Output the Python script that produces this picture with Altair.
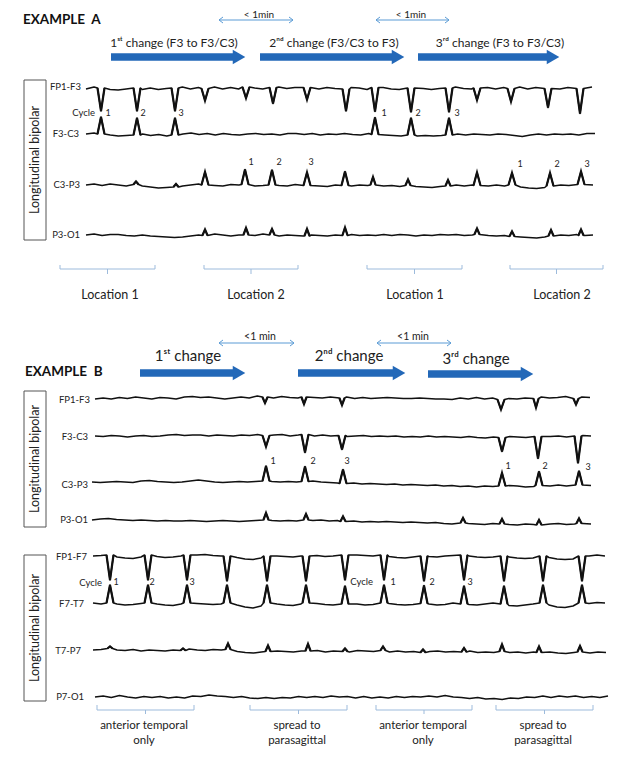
import altair as alt
import pandas as pd

FONT = "Lato, DejaVu Sans, sans-serif"
INK = "#111111"
BLUE = "#2368b8"
LIGHT = "#5b9bd5"
BRACKET = "#9dbbdc"

# ---------------- Example A : traces (x = time position, y = vertical position, picture units) ----------------
A_START, A_END = 86, 592

A_FP1F3_BASE = 88
A_FP1F3_WIG = [1, -1, 0, 1.5, 2, 1, 0, 1.5, 0, 1.5, 0.5, 0, -1, 1, -0.5, 0.5, -1, 1, -0.5, 1, -1, 0, 1, -0.5, -1, 0.5,
               -0.5, 1, -0.5, 1, -0.5, 0.5, 1, -0.5, 0, 1.5, -0.5, -0.5, 1, 1.5, 0, 1, 0.5, 1.5, 0.5, 0, -1, 0.5, 1, 0,
               -0.5, 1, -0.5, 0.5, -1, 1, -0.5, -0.5, 0.5, 1, -0.5, -1, 0.5, -1]
A_FP1F3_SPK_X = [101, 137, 175, 205, 246, 273, 307, 346, 375, 411, 449, 477, 511, 548, 580]
A_FP1F3_SPK_A = [23, 23, 23, 12, 11, 16, 12, 22, 24, 24, 24, 12, 13, 19, 25]

A_F3C3_BASE = 134
A_F3C3_WIG = [0, -1, 0, 1, 2, 1.5, 1, 0, 1.5, 0.5, 2, 1, 0, -1, 0.5, -0.5, 1, -0.5, 0.5, 1, 0, -0.5, 0.5, 0, 1, -0.5,
              -0.5, 0.5, -0.5, 1, 0, 0.5, -0.5, 0.5, 1, -0.5, 0.5, 1, 1.5, 2, 1, 2, 1.5, 2, 1.5, 1, 0, 1, 0, 0.5, 1,
              0, 0.5, 1.5, 2.5, 1, 0, 1, 0, 0.5, 0, 1, -0.5, -0.5]
A_F3C3_SPK_X = [101, 137, 175, 375, 411, 449]
A_F3C3_SPK_A = [-17, -17, -17, -17, -17, -17]

A_C3P3_BASE = 185
A_C3P3_WIG = [0, -1, 0.5, -1, 0, 1, -0.5, 1, 2, 3, 2.5, 2, 1, 0, -1, 0, 0.5, 1, -0.5, 0, -0.5, 1, 0.5, 0, 0.5, 1,
              -0.5, 0.5, 0, 1, 1.5, 0, 0.5, 1, 0, 0.5, 0, 1, 0.5, 1.5, 0.5, 1.5, 2, 2.5, 1.5, 1, 0, 1, 0, 0.5, 1, 0,
              1, 0, 2, 3, 3.5, 2.5, 1, 0, 0.5, 0, -0.5, 0]
A_C3P3_SPK_X = [136, 176, 205, 245, 272, 307, 345, 373, 408, 448, 477, 512, 550, 581]
A_C3P3_SPK_A = [-3, -3, -13, -15, -15, -13, -14, -8, -6, -6, -13, -12, -13, -13]

A_P3O1_BASE = 235
A_P3O1_WIG = [0, -1, 0.5, -0.5, -0.5, 0.5, 1, 0, 1, 1.5, 2, 2.5, 2, 1, 0, 0.5, -1, 0, 1, 0, 0, 0.5, -1, 0, 1, 0,
              0.5, 1, 0, 0.5, 1, 0, 0.5, -0.5, 0.5, 0, 0.5, -0.5, 0.5, -0.5, 0, 1, 0, 0.5, -0.5, 0, -0.5, 0.5, 0,
              -0.5, 0.5, 1, 0.5, 1.5, 2, 2.5, 3, 2, 1, 0, 0.5, -0.5, 0.5, 0]
A_P3O1_SPK_X = [205, 246, 272, 307, 345, 477, 512, 551, 581]
A_P3O1_SPK_A = [-6, -7, -6, -7, -8, -6, -5, -6, -6]

# ---------------- Example B (parasagittal chain) ----------------
B_START, B_END = 95, 590

B_FP1F3_BASE = 398
B_FP1F3_WIG = [1, 0, 1, -0.5, 0.5, -1, 0, 1, -0.5, 0, 1, -1, -1.5, -0.5, -1, 0, 1, 0, -1, 0, -2, -1, 0, -1.5, -0.5,
               0, -1, -0.5, 0, -1, 0, -1, 0.5, -0.5, 0.5, 0, -0.5, 0, 0.5, 0.5, 0, 0.5, 1, 1, 1.5, 0, 1, -0.5, 1, 0,
               1.5, 0.5, 1, 0, 0.5, -1, 0, -0.5, -1.5, 0.5, -1, -0.5]
B_FP1F3_SPK_X = [265, 304, 342, 501, 536, 576]
B_FP1F3_SPK_A = [6, 7, 7, 10, 9, 6]

B_F3C3_BASE = 436
B_F3C3_WIG = [0, 0.5, -0.5, 0, 1, 0, -0.5, 0.5, 0, -1, -1.5, -0.5, -1, -1, 0, -1, -0.5, 0, -1, -0.5, -1.5, -0.5, -1,
              -1.5, 0, -1, -1.5, 0, -1, 0, -0.5, 0.5, 0, -0.5, 0.5, 0, 0.5, 0, 1, 0.5, 1, 0, 1, 0.5, 1, 1.5, 0.5,
              1.5, 2, 1, 1.5, 0.5, 1, 1.5, 0.5, 1, 0.5, 0, 1, 0, -0.5, 0]
B_F3C3_SPK_X = [266, 305, 342, 502, 538, 578]
B_F3C3_SPK_A = [11, 18, 14, 14, 22, 27]

B_C3P3_BASE = 482
B_C3P3_WIG = [0, 0.5, 0, -0.5, 0, 0.5, -1, -1.5, -0.5, 0, 0.5, 0, -1, -2, -1, 0, 0.5, 0, -0.5, 0, -0.5, -1, -0.5, 0,
              -0.5, 0, -0.5, -1, 0, 0.5, 1, 1.5, 1, 2, 1.5, 2, 2.5, 2, 3, 2.5, 3, 3.5, 3, 4, 3.5, 4.5, 4, 5, 4, 4.5,
              4, 3.5, 4, 5, 4.5, 3.5, 4, 3, 4, 3.5, 3, 3.5]
B_C3P3_SPK_X = [266, 305, 343, 502, 539, 579]
B_C3P3_SPK_A = [-15, -15, -14, -13, -14, -14]

B_P3O1_BASE = 520
B_P3O1_WIG = [0, -1, -1.5, -0.5, 0, 0.5, 0, 0.5, 1, 0.5, 1, 1, 0.5, 1, 1.5, 1, 0.5, 1, 1.5, 1, 0.5, 0, 0.5, 1, 0.5,
              1, 0, 0.5, 0, 1, 0.5, 1.5, 1, 2, 1.5, 2, 1.5, 2, 2.5, 2, 2.5, 3, 2.5, 3.5, 4, 3, 3.5, 4, 4.5, 3.5, 4,
              4.5, 5, 4, 4.5, 5, 4, 3.5, 4.5, 4, 3.5, 4]
B_P3O1_SPK_X = [266, 306, 343, 463, 502, 539, 579]
B_P3O1_SPK_A = [-7, -6, -5, -5, -5, -5, -5]

# ---------------- Example B (temporal chain) ----------------
C_START, C_END = 93, 605
CYCLES = [110, 148, 187, 227, 267, 306, 345, 384, 424, 464, 504, 543, 582]

C_FP1F7_BASE = 556
C_FP1F7_WIG = [0, -0.5, -1, 1, 2, 2.5, 1, -1, 0.5, 1.5, 1, 0, -1, -1, -1.5, -0.5, 0, 0, 1.5, 3, 3.5, 2, 0, 0, 0.5,
               1, 0, 0, -0.5, 0.5, 0, -1, 0, -1, -0.5, 0, -1, 0.5, 1.5, 2, 1, 0, 0.5, 1, 0, -0.5, -1, 0, 1, 1.5, 1, 0,
               1, 2, 2.5, 2, 0, 1.5, 3, 3.5, 3, 0, 0, -1, 0]
C_FP1F7_SPK_A = [25] * len(CYCLES)

C_F7T7_BASE = 603
C_F7T7_WIG = [0, 1, 0, 1, 2, 1.5, 0.5, 0, 1, 2, 2.5, 1, 0, 0.5, 1, 1.5, 1, 0, 2, 4, 5, 3, 0, 1, 2, 2.5, 1, 0, 0.5,
              1.5, 2, 1, 0, 1, 2, 1.5, 0, 0.5, 1.5, 2, 1.5, 0.5, 1, 2, 1.5, 0, 1, 1.5, 2, 1, 0, 1, 2.5, 3, 2, 1, 0,
              2, 4, 4.5, 3, 0, 0.5, -0.5, 0]
C_F7T7_SPK_A = [-18] * len(CYCLES)

C_T7P7_BASE = 650
C_T7P7_WIG = [0, -0.5, -1.5, 0, 0.5, -0.5, 1, 0, 0.5, 1, 0, 0.5, -1, 0, 0.5, -0.5, 0, -0.5, 1.5, 2.5, 3, 2, 1.5, 1,
              1.5, 2, 1, 1, 0.5, 2, 1, 1.5, 2, 0.5, 1, 1.5, 0.5, 2, 1, 2, 1.5, 2.5, 1.5, 1, 2, 1.5, 2, 1, 2.5, 2, 2.5,
              1.5, 2.5, 2, 3, 2, 2.5, 2, 3, 3.5, 2.5, 2, 3, 2, 2.5]
C_T7P7_SPK_X = [110, 183, 228, 268, 308, 345, 383, 423, 464, 502, 539, 580]
C_T7P7_SPK_A = [-2, -2, -6, -6, -7, -3, -4, -3, -4, -7, -6, -6]

C_P7O1_BASE = 697
C_P7O1_WIG = [0, -1, 0.5, -1.5, 0, 1, -0.5, 0.5, -0.5, 1, 0, 1, -1, -0.5, -2, -1, -0.5, 0.5, -0.5, 1, 1.5, 0.5,
              1.5, 0.5, 1, -0.5, 0.5, -0.5, 0.5, -1, 0, -0.5, 1, -0.5, 1, 0, 1, -0.5, 0.5, -0.5, 0, -1, 0, -1.5, 0,
              0.5, 1.5, 0.5, 2, 1.5, 2.5, 1, 1.5, 0, 0.5, -1, 0.5, -1, 0, -1, 0.5, -0.5, 0.5, -1]

TRACES = [
    ("A1", A_START, A_END, A_FP1F3_BASE, A_FP1F3_WIG, A_FP1F3_SPK_X, A_FP1F3_SPK_A),
    ("A2", A_START, A_END + 3, A_F3C3_BASE, A_F3C3_WIG, A_F3C3_SPK_X, A_F3C3_SPK_A),
    ("A3", A_START, A_END + 1, A_C3P3_BASE, A_C3P3_WIG, A_C3P3_SPK_X, A_C3P3_SPK_A),
    ("A4", A_START, A_END + 1, A_P3O1_BASE, A_P3O1_WIG, A_P3O1_SPK_X, A_P3O1_SPK_A),
    ("B1", B_START, B_END, B_FP1F3_BASE, B_FP1F3_WIG, B_FP1F3_SPK_X, B_FP1F3_SPK_A),
    ("B2", B_START, B_END + 1, B_F3C3_BASE, B_F3C3_WIG, B_F3C3_SPK_X, B_F3C3_SPK_A),
    ("B3", B_START - 3, B_END + 1, B_C3P3_BASE, B_C3P3_WIG, B_C3P3_SPK_X, B_C3P3_SPK_A),
    ("B4", B_START - 3, B_END + 1, B_P3O1_BASE, B_P3O1_WIG, B_P3O1_SPK_X, B_P3O1_SPK_A),
    ("C1", C_START, C_END, C_FP1F7_BASE, C_FP1F7_WIG, CYCLES, C_FP1F7_SPK_A),
    ("C2", C_START, C_END, C_F7T7_BASE, C_F7T7_WIG, CYCLES, C_F7T7_SPK_A),
    ("C3", C_START, C_END + 1, C_T7P7_BASE, C_T7P7_WIG, C_T7P7_SPK_X, C_T7P7_SPK_A),
    ("C4", C_START + 2, C_END + 3, C_P7O1_BASE, C_P7O1_WIG, [], []),
]


def build_trace(x0, x1, base, wig, spk_x, spk_a):
    n = len(wig)
    step = (x1 - x0) / (n - 1)
    xs = [x0 + i * step for i in range(n)]
    pts = [(x, base + w) for x, w in zip(xs, wig)]
    spikes = []
    for s, a in zip(spk_x, spk_a):
        j = min(range(n), key=lambda i: abs(xs[i] - s))
        sy = base + wig[j]
        hw = 3.5 if abs(a) >= 10 else 2.6
        pts = [p for p in pts if abs(p[0] - s) > hw + 1.0]
        tri = [(s - hw, sy), (s, sy + a), (s + hw, sy)]
        pts.extend(tri)
        spikes.append(tri)
    pts.sort(key=lambda p: p[0])
    return pts, spikes


line_rows, spike_rows = [], []
for tid, x0, x1, base, wig, sx, sa in TRACES:
    pts, spikes = build_trace(x0, x1, base, wig, sx, sa)
    for k, (x, y) in enumerate(pts):
        line_rows.append({"trace": tid, "x": x, "y": y, "o": k})
    for m, tri in enumerate(spikes):
        for k, (x, y) in enumerate(tri):
            spike_rows.append({"spike": f"{tid}-{m}", "x": x, "y": y, "o": k})

traces_df = pd.DataFrame(line_rows)
spikes_df = pd.DataFrame(spike_rows)

# ---------------- annotation layout ----------------
BIG_ARROWS = [  # (x start, x tip, y)
    (111, 245, 57), (260, 404, 57), (418, 559, 57),
    (140, 245, 373), (298, 405, 373), (428, 533, 374),
]
SPAN_ARROWS = [(219, 293, 20), (376, 449, 20), (219, 294, 343), (377, 451, 343)]
BRACKETS_A = [(60, 155), (204, 298), (367, 462), (510, 603)]
BRACKETS_C = [(97, 194), (250, 347), (376, 472), (496, 593)]
BOXES = [(24, 46, 80, 240), (24, 46, 391, 527), (24, 46, 555, 701)]

rule_rows = []
for xs_, xt, y in BIG_ARROWS:
    rule_rows.append(dict(x=xs_, x2=xt - 10, y=y, y2=y, c=BLUE, sw=7.5))
for xa, xb, y in SPAN_ARROWS:
    rule_rows.append(dict(x=xa, x2=xb, y=y, y2=y, c=LIGHT, sw=1))
    for ex, d in ((xa, 1), (xb, -1)):
        rule_rows.append(dict(x=ex, x2=ex + 4 * d, y=y, y2=y - 3, c=LIGHT, sw=1))
        rule_rows.append(dict(x=ex, x2=ex + 4 * d, y=y, y2=y + 3, c=LIGHT, sw=1))
for brs, ytop, ymid, ybot in ((BRACKETS_A, 265, 269, 274), (BRACKETS_C, 705, 710, 714)):
    for xa, xb in brs:
        xm = (xa + xb) / 2
        rule_rows += [
            dict(x=xa, x2=xa, y=ytop, y2=ymid, c=BRACKET, sw=1),
            dict(x=xb, x2=xb, y=ytop, y2=ymid, c=BRACKET, sw=1),
            dict(x=xa, x2=xb, y=ymid, y2=ymid, c=BRACKET, sw=1),
            dict(x=xm, x2=xm, y=ymid, y2=ybot, c=BRACKET, sw=1),
        ]
rules_df = pd.DataFrame(rule_rows)
heads_df = pd.DataFrame([dict(x=xt - 6, y=y) for _, xt, y in BIG_ARROWS])
boxes_df = pd.DataFrame([dict(x=a, x2=b, y=c, y2=d) for a, b, c, d in BOXES])

CENTER_TEXT = [
    ("1\u02e2\u1d57 change (F3 to F3/C3)", 174, 43, 12),
    ("2\u207f\u1d48 change (F3/C3 to F3)", 334, 43, 12),
    ("3\u02b3\u1d48 change (F3 to F3/C3)", 500, 43, 12),
    ("< 1min", 259, 14.5, 10), ("< 1min", 411, 14.5, 10),
    ("Location 1", 110, 295, 12.5), ("Location 2", 256, 295, 12.5),
    ("Location 1", 415, 295, 12.5), ("Location 2", 562, 295, 12.5),
    ("<1 min", 260, 337, 10.5), ("<1 min", 413, 337, 10.5),
    ("1\u02e2\u1d57 change", 188, 356, 15), ("2\u207f\u1d48 change", 349, 356, 15),
    ("3\u02b3\u1d48 change", 476, 359, 15),
    ("anterior temporal", 144, 726, 11.5), ("only", 144, 741, 11.5),
    ("spread to", 297, 726, 11.5), ("parasagittal", 297, 741, 11.5),
    ("anterior temporal", 423, 726, 11.5), ("only", 423, 741, 11.5),
    ("spread to", 543, 726, 11.5), ("parasagittal", 543, 741, 11.5),
]
NUMBERS = [
    (108, 113), (143, 113), (181, 113), (384, 113), (418, 113), (457, 113),
    (251, 162), (279, 162), (311, 162), (520, 164), (557, 164), (587, 164),
    (273, 461), (313, 461), (347, 461), (508, 466), (545, 466), (588, 467),
    (116, 582), (152, 582), (192, 582), (393, 582), (432, 582), (470, 582),
]
NUMBER_LABELS = ["1", "2", "3"] * 8
RIGHT_TEXT = [
    ("FP1-F3", 81, 87), ("Cycle", 95, 113), ("F3-C3", 79, 134), ("C3-P3", 80, 185), ("P3-O1", 80, 235),
    ("FP1-F3", 90, 400), ("F3-C3", 88, 437), ("C3-P3", 88, 485), ("P3-O1", 88, 520),
    ("FP1-F7", 87, 557), ("Cycle", 102, 583), ("Cycle", 373, 582), ("F7-T7", 84, 604),
    ("T7-P7", 81, 651), ("P7-O1", 84, 697),
]
TITLES = [("EXAMPLE\u00a0\u00a0A", 23, 20), ("EXAMPLE\u00a0\u00a0B", 25, 372)]
BOX_TEXT = [("Longitudinal bipolar", 35, 160), ("Longitudinal bipolar", 35, 459), ("Longitudinal bipolar", 35, 628)]

center_df = pd.DataFrame(
    [dict(t=t, x=x, y=y, fs=fs) for t, x, y, fs in CENTER_TEXT]
    + [dict(t=lab, x=x, y=y, fs=9) for lab, (x, y) in zip(NUMBER_LABELS, NUMBERS)]
)
right_df = pd.DataFrame([dict(t=t, x=x, y=y) for t, x, y in RIGHT_TEXT])
title_df = pd.DataFrame([dict(t=t, x=x, y=y) for t, x, y in TITLES])
boxtext_df = pd.DataFrame([dict(t=t, x=x, y=y) for t, x, y in BOX_TEXT])

XS = alt.Scale(domain=[8, 616], nice=False, zero=False)
YS = alt.Scale(domain=[8, 759], nice=False, zero=False, reverse=True)
X = lambda f="x": alt.X(f"{f}:Q", scale=XS, axis=None)
Y = lambda f="y": alt.Y(f"{f}:Q", scale=YS, axis=None)

boxes = alt.Chart(boxes_df).mark_rect(fill="white", stroke="#555555", strokeWidth=1).encode(
    x=X(), x2="x2:Q", y=Y(), y2="y2:Q")
box_text = alt.Chart(boxtext_df).mark_text(font=FONT, fontSize=12.5, angle=270, align="center",
                                           baseline="middle", color="#222").encode(x=X(), y=Y(), text="t:N")
trace_lines = alt.Chart(traces_df).mark_line(color=INK, strokeWidth=1.5, strokeJoin="round").encode(
    x=X(), y=Y(), detail="trace:N", order="o:Q")
spike_lines = alt.Chart(spikes_df).mark_line(color=INK, strokeWidth=2.2, strokeJoin="miter").encode(
    x=X(), y=Y(), detail="spike:N", order="o:Q")
rules = alt.Chart(rules_df).mark_rule().encode(
    x=X(), x2="x2:Q", y=Y(), y2="y2:Q",
    color=alt.Color("c:N", scale=None), strokeWidth=alt.StrokeWidth("sw:Q", scale=None))
heads = alt.Chart(heads_df).mark_point(shape="triangle-right", size=210, filled=True, fill=BLUE,
                                       color=BLUE, opacity=1, strokeWidth=0).encode(x=X(), y=Y())
center_text = alt.Chart(center_df).mark_text(font=FONT, align="center", baseline="middle", color="#222").encode(
    x=X(), y=Y(), text="t:N", size=alt.Size("fs:Q", scale=None))
right_text = alt.Chart(right_df).mark_text(font=FONT, fontSize=9.5, align="right", baseline="middle",
                                           color="#222").encode(x=X(), y=Y(), text="t:N")
titles = alt.Chart(title_df).mark_text(font=FONT, fontSize=13.5, fontWeight="bold", align="left",
                                       baseline="middle", color="#111").encode(x=X(), y=Y(), text="t:N")

chart = alt.layer(
    boxes, box_text, rules, heads, trace_lines, spike_lines, center_text, right_text, titles
).properties(
    width=608, height=751, padding=0, autosize=alt.AutoSizeParams(type="none"), background="white"
).configure_view(strokeWidth=0)

chart.save("out.html", embed_options={"renderer": "svg", "actions": False})
